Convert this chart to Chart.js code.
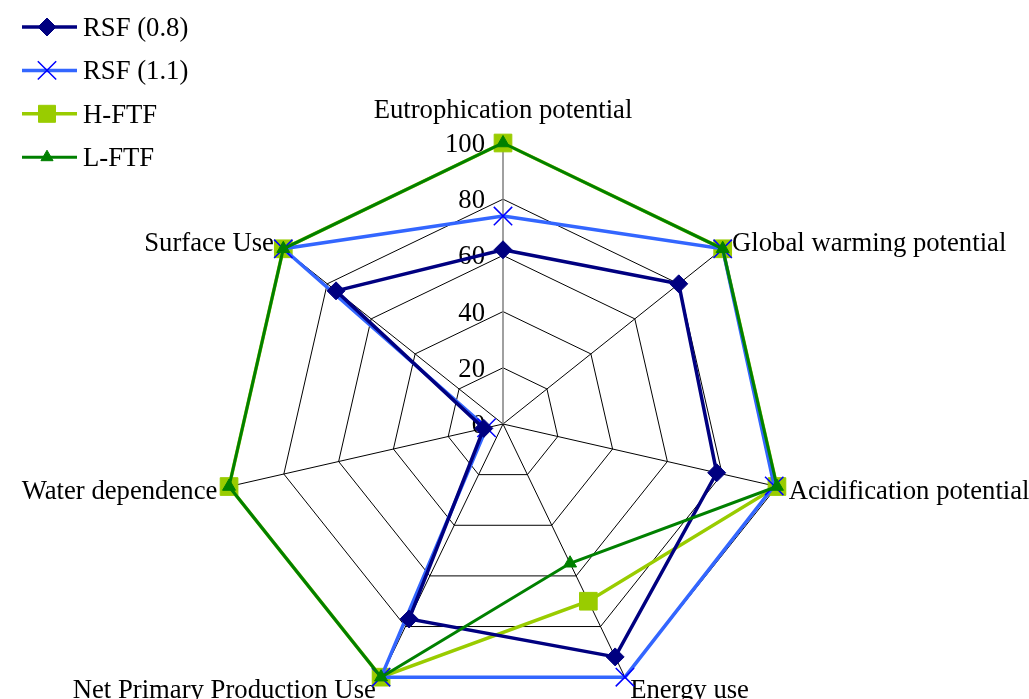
<!DOCTYPE html>
<html>
<head>
<meta charset="utf-8">
<script src="https://cdn.jsdelivr.net/npm/chart.js@4/dist/chart.umd.min.js"></script>
<style>
  html, body { margin: 0; padding: 0; background: #fff; overflow: hidden; }
  canvas { display: block; }
</style>
</head>
<body>
<canvas id="radar" width="1029" height="710"></canvas>
<script>
// Impact categories (radar axes, clockwise from the top)
const categories = [
  'Eutrophication potential',
  'Global warming potential',
  'Acidification potential',
  'Energy use',
  'Net Primary Production Use',
  'Water dependence',
  'Surface Use'
];

// Relative scores per scenario
const rsf08 = [62, 80, 78, 92, 77, 7, 76];
const rsf11 = [74, 100, 99, 100, 100, 6, 100];
const hFtf  = [100, 100, 100, 70, 100, 100, 100];
const lFtf  = [100, 100, 100, 55, 100, 100, 100];

const seriesNames = ['RSF (0.8)', 'RSF (1.1)', 'H-FTF', 'L-FTF'];
const tickValues = [0, 20, 40, 60, 80, 100];

const SERIF = '"Liberation Serif", "Times New Roman", serif';
const FONT = '26.7px ' + SERIF;
const TEXT_DROP = 3; // optical centring of serif text on its anchor

// Axis names around the web and the value scale along the top spoke
const textPlugin = {
  id: 'webText',
  beforeDatasetsDraw(chart) {
    const ctx = chart.ctx;
    const r = chart.scales.r;
    ctx.save();
    ctx.font = FONT;
    ctx.fillStyle = '#000';
    ctx.textBaseline = 'middle';

    // scale numbers, right-aligned next to the vertical spoke
    ctx.textAlign = 'right';
    tickValues.forEach(v => {
      const y = r.yCenter - r.getDistanceFromCenterForValue(v);
      ctx.fillText(String(v), r.xCenter - 18, y + 2);
    });

    // category names
    const n = chart.data.labels.length;
    chart.data.labels.forEach((lab, i) => {
      const angleDeg = i * 360 / n;
      if (angleDeg === 0) {
        const p = r.getPointPosition(i, r.drawingArea + 35);
        ctx.textAlign = 'center';
        ctx.fillText(lab, p.x, p.y + TEXT_DROP);
      } else {
        const p = r.getPointPosition(i, r.drawingArea + 12);
        ctx.textAlign = angleDeg < 180 ? 'left' : 'right';
        ctx.fillText(lab, p.x, p.y + TEXT_DROP);
      }
    });
    ctx.restore();
  }
};

// Legend in the top-left corner: line sample with the marker on it
const legendPlugin = {
  id: 'cornerLegend',
  afterDraw(chart) {
    const ctx = chart.ctx;
    ctx.save();
    chart.data.datasets.forEach((ds, i) => {
      const y = 27 + i * 43.4;
      ctx.strokeStyle = ds.borderColor;
      ctx.lineWidth = ds.borderWidth;
      ctx.beginPath();
      ctx.moveTo(22, y);
      ctx.lineTo(77, y);
      ctx.stroke();
      ctx.fillStyle = ds.pointBackgroundColor;
      ctx.strokeStyle = ds.pointBorderColor;
      ctx.lineWidth = ds.pointBorderWidth;
      Chart.helpers.drawPoint(ctx, {
        pointStyle: ds.pointStyle,
        radius: ds.legendRadius,
        rotation: 0,
        borderWidth: ds.pointBorderWidth
      }, 47, y);
      ctx.font = FONT;
      ctx.fillStyle = '#000';
      ctx.textAlign = 'left';
      ctx.textBaseline = 'middle';
      ctx.fillText(ds.label, 83, y + 2);
    });
    ctx.restore();
  }
};

new Chart(document.getElementById('radar'), {
  type: 'radar',
  data: {
    labels: categories,
    datasets: [
      {
        label: seriesNames[0], data: rsf08, order: 1,
        borderColor: '#000080', borderWidth: 3.5, fill: false,
        pointStyle: 'rectRot', pointRadius: 9, legendRadius: 9,
        pointBackgroundColor: '#000080', pointBorderColor: '#000080', pointBorderWidth: 1
      },
      {
        label: seriesNames[1], data: rsf11, order: 2,
        borderColor: '#3366FF', borderWidth: 3.5, fill: false,
        pointStyle: 'crossRot', pointRadius: 13, legendRadius: 13,
        pointBackgroundColor: '#0000FF', pointBorderColor: '#0000FF', pointBorderWidth: 1.5
      },
      {
        label: seriesNames[2], data: hFtf, order: 3,
        borderColor: '#99CC00', borderWidth: 3.5, fill: false,
        pointStyle: 'rect', pointRadius: 12.5, legendRadius: 12,
        pointBackgroundColor: '#99CC00', pointBorderColor: '#99CC00', pointBorderWidth: 1
      },
      {
        label: seriesNames[3], data: lFtf, order: 0,
        borderColor: '#008000', borderWidth: 3, fill: false,
        pointStyle: 'triangle', pointRadius: 7.5, legendRadius: 7,
        pointBackgroundColor: '#008000', pointBorderColor: '#008000', pointBorderWidth: 1
      }
    ]
  },
  options: {
    responsive: false,
    animation: false,
    events: [],
    layout: { padding: { top: 143, bottom: 5, left: 0, right: 23 } },
    elements: { line: { tension: 0 } },
    plugins: { legend: { display: false }, tooltip: { enabled: false } },
    scales: {
      r: {
        min: 0, max: 100,
        startAngle: 0,
        ticks: { stepSize: 20, display: false },
        grid: { color: '#000', lineWidth: 1 },
        angleLines: {
          color: c => c.index === 0 ? '#808080' : '#000',
          lineWidth: c => c.index === 0 ? 1.5 : 1
        },
        pointLabels: { display: false }
      }
    }
  },
  plugins: [textPlugin, legendPlugin]
});
</script>
</body>
</html>
